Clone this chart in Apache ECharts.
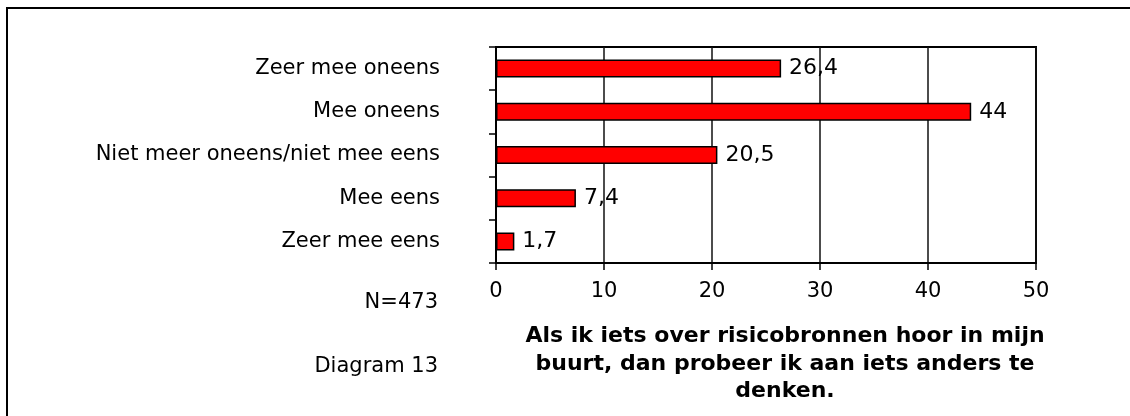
<!DOCTYPE html>
<html>
<head>
<meta charset="utf-8">
<script src="https://cdn.jsdelivr.net/npm/echarts@6/dist/echarts.min.js"></script>
<style>
  html, body { margin: 0; padding: 0; background: #fff; }
  #chart { width: 1130px; height: 416px; }
</style>
</head>
<body>
<div id="chart"></div>
<script>
// categories, top to bottom
const categories = [
  'Zeer mee oneens',
  'Mee oneens',
  'Niet meer oneens/niet mee eens',
  'Mee eens',
  'Zeer mee eens'
]
const percentages = [26.4, 44, 20.5, 7.4, 1.7]
const xTicks = [0, 10, 20, 30, 40, 50]
const sampleNote = 'N=473'
const diagramNote = 'Diagram 13'
const titleLines = [
  'Als ik iets over risicobronnen hoor in mijn',
  'buurt, dan probeer ik aan iets anders te',
  'denken.'
]

const font = 'DejaVu Sans'
const chart = echarts.init(document.getElementById('chart'))

const option = {
  animation: false,
  backgroundColor: '#fff',
  grid: {
    left: 496,
    top: 47,
    width: 540,
    height: 216,
    show: true,
    borderColor: '#000',
    borderWidth: 2
  },
  xAxis: {
    type: 'value',
    min: xTicks[0],
    max: xTicks[xTicks.length - 1],
    interval: 10,
    axisLine: { show: true, lineStyle: { color: '#000', width: 2 } },
    axisTick: { show: true, length: 7, lineStyle: { color: '#000', width: 1.5 } },
    splitLine: { show: true, lineStyle: { color: '#111', width: 1.5 } },
    axisLabel: {
      margin: 18,
      color: '#000',
      fontFamily: font,
      fontSize: 21,
      formatter: v => String(v)
    }
  },
  yAxis: {
    type: 'category',
    data: categories,
    inverse: true,
    axisLine: { show: true, lineStyle: { color: '#000', width: 2 } },
    axisTick: { show: true, length: 7, lineStyle: { color: '#000', width: 1.5 } },
    axisLabel: {
      margin: 56,
      color: '#000',
      fontFamily: font,
      fontSize: 21
    }
  },
  series: [
    {
      type: 'bar',
      data: percentages,
      barWidth: 18,
      itemStyle: { color: '#ff0000', borderColor: '#000', borderWidth: 1.5 },
      label: {
        show: true,
        position: 'right',
        distance: 8,
        color: '#000',
        fontFamily: font,
        fontSize: 22,
        formatter: p => String(p.value).replace('.', ',')
      }
    }
  ],
  graphic: [
    {
      type: 'rect',
      shape: { x: 7, y: 8, width: 1200, height: 500 },
      style: { fill: 'none', stroke: '#000', lineWidth: 2 },
      silent: true
    },
    {
      type: 'text',
      x: 438,
      y: 303,
      style: {
        text: sampleNote,
        textAlign: 'right',
        textVerticalAlign: 'middle',
        fill: '#000',
        font: '21px "DejaVu Sans"'
      }
    },
    {
      type: 'text',
      x: 438,
      y: 367,
      style: {
        text: diagramNote,
        textAlign: 'right',
        textVerticalAlign: 'middle',
        fill: '#000',
        font: '21px "DejaVu Sans"'
      }
    },
    {
      type: 'text',
      x: 785,
      y: 323,
      style: {
        text: titleLines.join('\n'),
        textAlign: 'center',
        lineHeight: 27.5,
        fill: '#000',
        font: 'bold 22px "DejaVu Sans"'
      }
    }
  ]
}

chart.setOption(option)
</script>
</body>
</html>
